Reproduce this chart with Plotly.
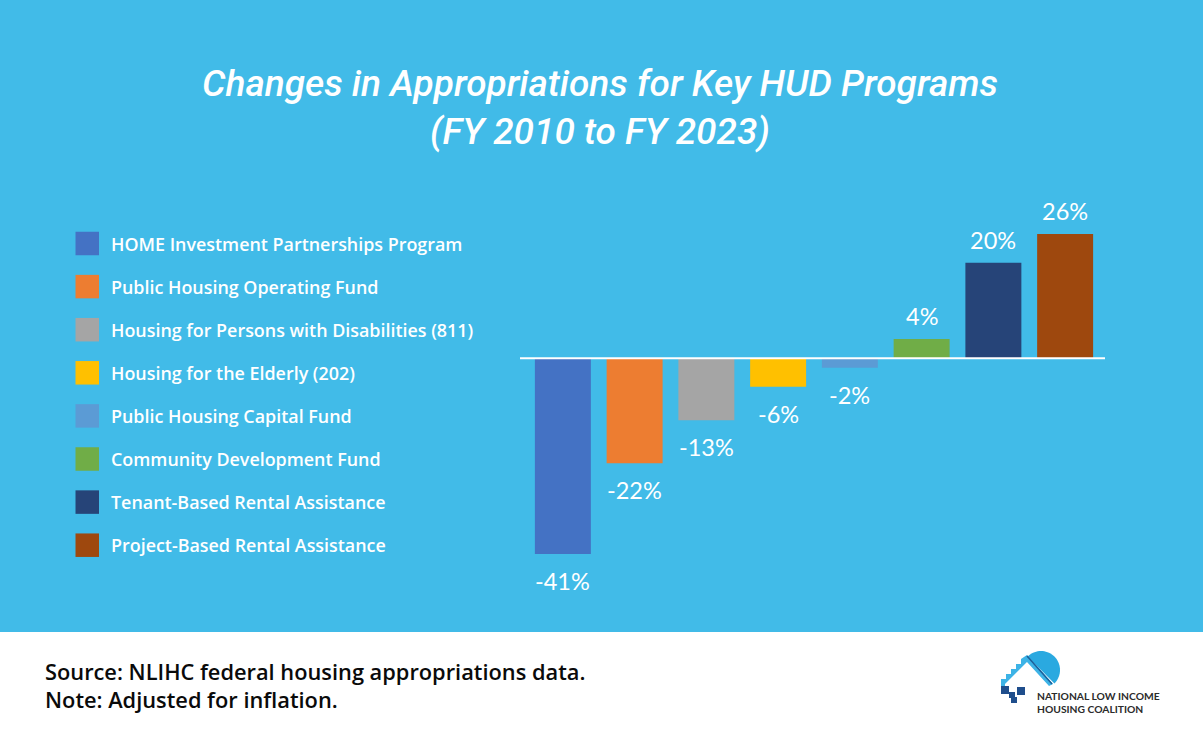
import math
import plotly.graph_objects as go

# ---- data ----
programs = [
    "HOME Investment Partnerships Program",
    "Public Housing Operating Fund",
    "Housing for Persons with Disabilities (811)",
    "Housing for the Elderly (202)",
    "Public Housing Capital Fund",
    "Community Development Fund",
    "Tenant-Based Rental Assistance",
    "Project-Based Rental Assistance",
]
changes_pct = [-41, -22, -13, -6, -2, 4, 20, 26]
colors = ["#4472C4", "#ED7D31", "#A5A5A5", "#FFC000",
          "#5B9BD5", "#70AD47", "#264478", "#9E480E"]

title_line1 = "Changes in Appropriations for Key HUD Programs"
title_line2 = "(FY 2010 to FY 2023)"
source_line = "Source: NLIHC federal housing appropriations data."
note_line = "Note: Adjusted for inflation."

BG = "#41BBE8"
W, H = 1203, 741
L, R, T, B = 527, 102, 191, 144
PW, PH = W - L - R, H - T - B


def px(x):
    return (x - L) / PW


def py(y):
    return (H - B - y) / PH


fig = go.Figure()
fig.add_trace(go.Bar(
    x=list(range(len(programs))),
    y=changes_pct,
    marker=dict(color=colors, line=dict(width=0)),
    hovertext=programs,
    showlegend=False,
))

shapes = []
annotations = []

# white footer band
shapes.append(dict(type="rect", xref="paper", yref="paper",
                   x0=px(-5), x1=px(W + 5), y0=py(632), y1=py(H + 5),
                   fillcolor="white", line=dict(width=0), layer="below"))
# baseline
shapes.append(dict(type="line", xref="paper", yref="y",
                   x0=px(520), x1=px(1105), y0=0, y1=0,
                   line=dict(color="white", width=2), layer="above"))

# value labels
for i, v in enumerate(changes_pct):
    annotations.append(dict(
        x=i, y=v, xref="x", yref="y", text=f"{v}%", showarrow=False,
        yanchor="middle", yshift=23 if v > 0 else -27,
        font=dict(family="Lato, sans-serif", size=23.5, color="white")))

# custom legend
for i, (name, c) in enumerate(zip(programs, colors)):
    cy = 243.5 + i * 43.1
    shapes.append(dict(type="rect", xref="paper", yref="paper",
                       x0=px(75.5), x1=px(99), y0=py(cy - 11.75), y1=py(cy + 11.75),
                       fillcolor=c, line=dict(width=0)))
    annotations.append(dict(
        x=px(109), y=py(cy), xref="paper", yref="paper", text=name,
        showarrow=False, xanchor="left", yanchor="middle",
        font=dict(family="Open Sans, sans-serif", size=17.9, color="white", weight=600)))

# title
title_font = dict(family="Roboto, sans-serif", size=37, color="white",
                  style="italic", weight=500)
annotations.append(dict(x=px(600), y=py(83), xref="paper", yref="paper",
                        text=title_line1, showarrow=False, xanchor="center",
                        yanchor="middle", font=title_font))
annotations.append(dict(x=px(600), y=py(131), xref="paper", yref="paper",
                        text=title_line2, showarrow=False, xanchor="center",
                        yanchor="middle", font=title_font))

# footer text (one block, two lines)
foot_font = dict(family="Open Sans, sans-serif", size=21.8, color="#0A0A0A", weight=600)
annotations.append(dict(x=px(43), y=py(685), xref="paper", yref="paper",
                        text=source_line + "<br>" + note_line, showarrow=False,
                        xanchor="left", yanchor="middle", align="left",
                        font=foot_font))


# logo (decorative)
def path_from(points, close=True):
    s = "M " + " L ".join(f"{px(x):.5f},{py(y):.5f}" for x, y in points)
    return s + (" Z" if close else "")


cx, cy, r = 1041.0, 670.0, 19.0
a0 = math.atan2(656 - 684, 1027 - 1055)
arc = []
for k in range(0, 37):
    a = a0 + math.pi * k / 36
    arc.append((cx + r * math.cos(a), cy + r * math.sin(a)))
shapes.append(dict(type="path", xref="paper", yref="paper",
                   path=path_from(arc), fillcolor="#2AA9E0", line=dict(width=0)))
stairs = [(1001, 688), (1001, 679), (1006, 679), (1006, 674), (1011, 674),
          (1011, 669), (1016, 669), (1016, 664), (1021, 664), (1021, 659),
          (1027, 655), (1053, 684), (1049, 686), (1027, 662), (1005, 684), (1005, 688)]
shapes.append(dict(type="path", xref="paper", yref="paper",
                   path=path_from(stairs), fillcolor="#3DB3E6", line=dict(width=0)))
shapes.append(dict(type="line", xref="paper", yref="paper",
                   x0=px(1027), y0=py(656), x1=px(1052), y1=py(684),
                   line=dict(color="#1C5F99", width=1.5)))
for (x0, y0, x1, y1) in [(1001, 686, 1009, 694), (1017, 687, 1025, 695),
                         (1009, 692, 1015, 698), (1011, 697, 1017, 703)]:
    shapes.append(dict(type="rect", xref="paper", yref="paper",
                       x0=px(x0), x1=px(x1), y0=py(y0), y1=py(y1),
                       fillcolor="#1F4E8C", line=dict(width=0)))
logo_font = dict(family="Lato, sans-serif", size=10.3, color="#2B2B2B", weight="bold")
annotations.append(dict(x=px(1035), y=py(702.5), xref="paper", yref="paper",
                        text="NATIONAL LOW INCOME<br>HOUSING COALITION", showarrow=False,
                        xanchor="left", yanchor="middle", align="left",
                        font=logo_font))

fig.update_layout(
    width=W, height=H,
    margin=dict(l=L, r=R, t=T, b=B, autoexpand=False),
    paper_bgcolor=BG, plot_bgcolor=BG,
    bargap=0.22,
    xaxis=dict(visible=False, range=[-0.5, len(programs) - 0.5]),
    yaxis=dict(visible=False, range=[-50, 35]),
    shapes=shapes,
    annotations=annotations,
    showlegend=False,
)

fig.write_html("out.html", config={"displayModeBar": False},
               post_script="document.body.style.margin='0px';")
